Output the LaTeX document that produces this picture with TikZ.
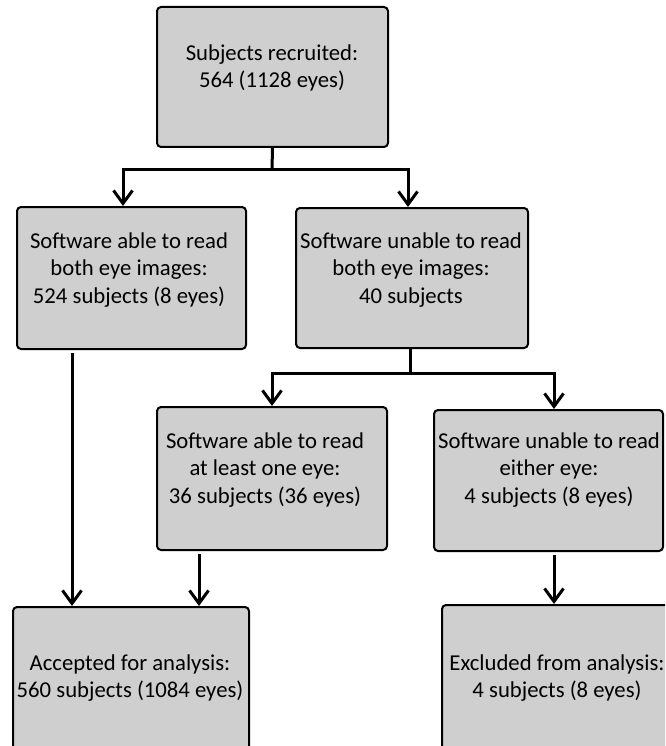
\documentclass[tikz,border=0pt]{standalone}
\usepackage{fontspec}
\setmainfont{Carlito}
\usetikzlibrary{arrows.meta}
\definecolor{boxgray}{RGB}{207,207,207}
\tikzset{
  box/.style={draw=black, line width=2pt, fill=boxgray, rounded corners=4pt, inner sep=0pt},
  txt/.style={align=center, inner sep=0pt, font=\fontsize{22.7pt}{27.5pt}\selectfont},
  conn/.style={line width=3pt, draw=black},
  arr/.style={conn, -{Straight Barb[length=13pt,width=19pt,line width=3pt]}},
}
\begin{document}
\begin{tikzpicture}[x=1pt,y=-1pt]
\useasboundingbox (0,0) rectangle (665,746);
\clip (0,0) rectangle (665,746);
% boxes
\node[box, minimum width=231pt, minimum height=140pt] (b1) at (272.5,77) {};
\node[box, minimum width=229pt, minimum height=142pt] (b2) at (131.5,278) {};
\node[box, minimum width=232pt, minimum height=140pt] (b3) at (412,278) {};
\node[box, minimum width=230pt, minimum height=143pt] (b4) at (272,478.5) {};
\node[box, minimum width=229pt, minimum height=141pt] (b5) at (548.5,480.5) {};
\node[box, minimum width=236pt, minimum height=158pt] (b6) at (131,686) {};
\node[box, minimum width=238pt, minimum height=160pt] (b7) at (561,685) {};
% texts
\node[txt] (t1) at (272,68) {Subjects recruited:\\564 (1128 eyes)};
\node[txt] (t2) at (129,270) {Software able to read\\both eye images:\\524 subjects (8 eyes)};
\node[txt] (t3) at (411,270) {Software unable to read\\both eye images:\\40 subjects};
\node[txt] (t4) at (265,470) {Software able to read\\at least one eye:\\36 subjects (36 eyes)};
\node[txt] (t5) at (549,470) {Software unable to read\\either eye:\\4 subjects (8 eyes)};
\node[txt] (t6) at (130,678) {Accepted for analysis:\\560 subjects (1084 eyes)};
\node[txt] (t7) at (557,678) {Excluded from analysis:\\4 subjects (8 eyes)};
% junctions
\coordinate (j1) at (272,170);
\coordinate (j2) at (410,373);
\coordinate (xa) at (72,0);
\coordinate (xb) at (199,0);
\coordinate (xc) at (554,0);
% connectors
\draw[conn] (b1.south) -- (j1);
\draw[arr] (j1) -| ([xshift=-8.5pt]b2.north);
\draw[arr] (j1) -| ([xshift=-4pt]b3.north);
\draw[conn] ([xshift=-2pt]b3.south) -- (j2);
\draw[arr] (j2) -| (b4.north);
\draw[arr] (j2) -| ([xshift=5.5pt]b5.north);
\draw[arr, shorten <=3pt] (b2.south -| xa) -- (b6.north -| xa);
\draw[arr, shorten <=3pt] (b4.south -| xb) -- (b6.north -| xb);
\draw[arr, shorten <=3pt] (b5.south -| xc) -- (b7.north -| xc);
\end{tikzpicture}
\end{document}
